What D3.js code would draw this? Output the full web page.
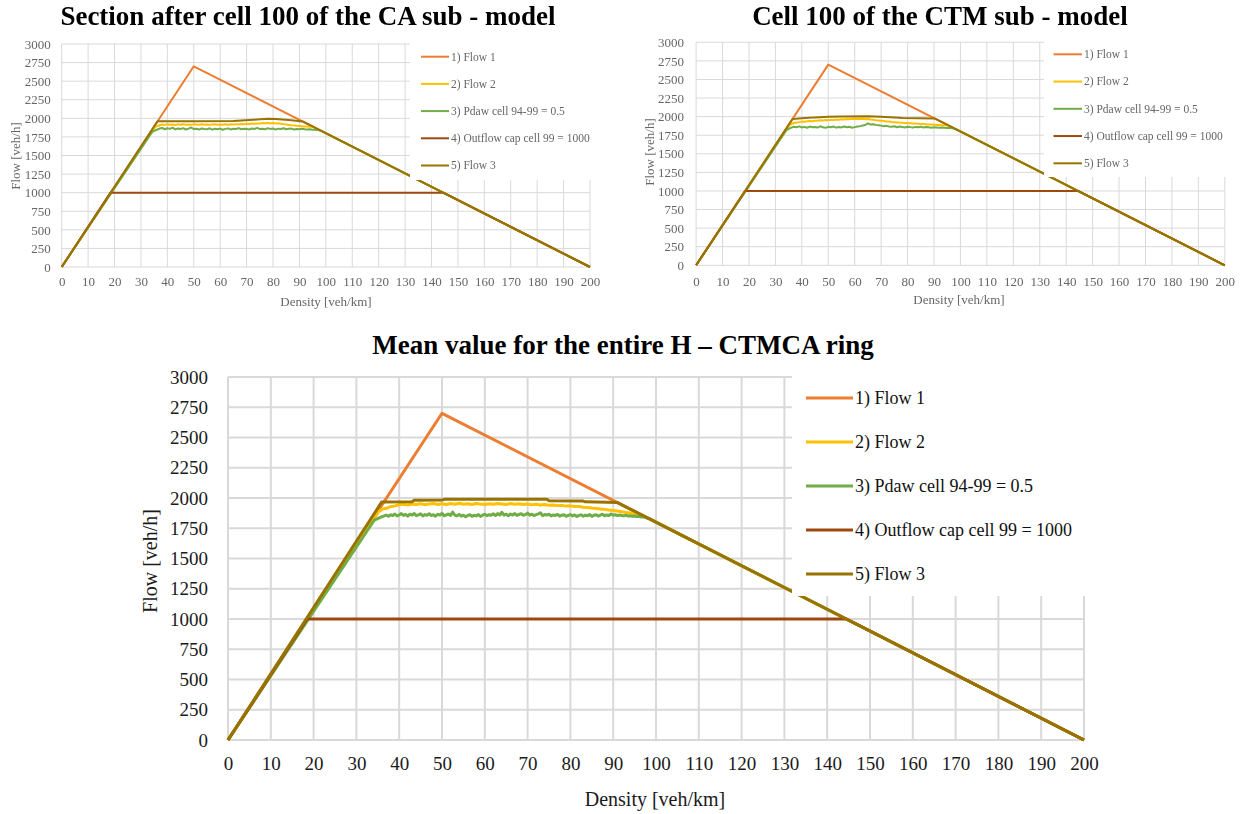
<!DOCTYPE html>
<html>
<head>
<meta charset="utf-8">
<script src="https://cdn.jsdelivr.net/npm/d3@7"></script>
<style>
  body { margin: 0; background: #fff; }
  svg { display: block; }
</style>
</head>
<body>
<svg id="chart" width="1244" height="814">
  <defs>
    <filter id="soft" x="-5%" y="-5%" width="110%" height="110%">
      <feGaussianBlur stdDeviation="0.4"/>
    </filter>
  </defs>
</svg>
<script>
const SERIF = "'Liberation Serif', 'Times New Roman', Times, serif";

// ---- axis ticks and legend labels ----
const densityTicks = [0, 10, 20, 30, 40, 50, 60, 70, 80, 90, 100, 110, 120, 130, 140, 150, 160, 170, 180, 190, 200];
const flowTicks = [0, 250, 500, 750, 1000, 1250, 1500, 1750, 2000, 2250, 2500, 2750, 3000];
const seriesNames = ["1) Flow 1", "2) Flow 2", "3) Pdaw cell 94-99 = 0.5", "4) Outflow cap cell 99 = 1000", "5) Flow 3"];
const seriesColors = ["#ED7D31", "#FFC000", "#70AD47", "#9E480E", "#997300"];

// ---- shared corner points [density, flow] ----
const flow1Corners = [[0, 0], [50, 2700], [200, 0]];
const outflowCapCorners = [[0, 0], [18.5, 1000], [144.5, 1000], [200, 0]];

// ---- CA sub-model, section after cell 100 ----
const caFlow3 = [[0, 0], [36.3, 1960], [50, 1962], [65, 1963], [68, 1972], [74, 1984], [78, 1993], [81, 1990], [86, 1978], [91.2, 1958], [200, 0]];
const caFlow2Rise = [[0, 0], [35.4, 1885], [36.6, 1900]];
const caFlow2Start = 37;
const caFlow2Plateau = [
  1908, 1916, 1912, 1920, 1914, 1918, 1911, 1919, 1915, 1921,
  1913, 1917, 1912, 1920, 1916, 1913, 1919, 1914, 1918, 1912,
  1917, 1921, 1914, 1918, 1913, 1919, 1915, 1920, 1916, 1922,
  1918, 1924, 1920, 1926, 1923, 1929, 1927, 1932, 1930, 1936,
  1933, 1938, 1934, 1937, 1931, 1933, 1926, 1922, 1916, 1911,
  1906, 1903, 1899, 1897, 1893, 1891, 1889, 1888];
const caFlow2Tail = [[95.2, 1886], [200, 0]];
const caPdawRise = [[0, 0], [34.2, 1815], [35.6, 1840]];
const caPdawStart = 36;
const caPdawPlateau = [
  1846, 1862, 1871, 1853, 1866, 1858, 1874, 1851, 1863, 1856,
  1868, 1850, 1861, 1877, 1855, 1860, 1849, 1864, 1857, 1852,
  1866, 1848, 1859, 1854, 1862, 1847, 1858, 1865, 1851, 1860,
  1856, 1869, 1853, 1861, 1858, 1850, 1864, 1857, 1872, 1855,
  1860, 1852, 1866, 1858, 1863, 1849, 1861, 1856, 1867, 1853,
  1859, 1862, 1850, 1857, 1854, 1860, 1852, 1849, 1853, 1847,
  1845, 1842];
const caPdawTail = [[98.3, 1831], [200, 0]];

// ---- CTM sub-model, cell 100 ----
const ctmFlow3 = [[0, 0], [36.5, 1968], [40, 1978], [45, 1990], [50, 1998], [55, 2003], [65, 2004], [70, 2000], [75, 1990], [78, 1980], [90.2, 1976], [200, 0]];
const ctmFlow2Rise = [[0, 0], [35.4, 1890], [36.6, 1908]];
const ctmFlow2Start = 37;
const ctmFlow2Plateau = [
  1914, 1922, 1926, 1933, 1930, 1938, 1941, 1938, 1946, 1944,
  1950, 1948, 1955, 1952, 1958, 1956, 1962, 1959, 1965, 1962,
  1968, 1965, 1971, 1968, 1973, 1969, 1972, 1966, 1968, 1961,
  1958, 1952, 1949, 1943, 1940, 1935, 1933, 1928, 1926, 1922,
  1920, 1917, 1915, 1912, 1910, 1908, 1906, 1904, 1902, 1900,
  1897, 1895, 1893, 1891, 1889, 1887, 1885, 1883, 1881];
const ctmFlow2Tail = [[95.6, 1879], [200, 0]];
const ctmPdawRise = [[0, 0], [34.2, 1820], [35.6, 1846]];
const ctmPdawStart = 36;
const ctmPdawPlateau = [
  1852, 1864, 1858, 1869, 1855, 1862, 1850, 1866, 1857, 1861,
  1853, 1870, 1856, 1849, 1863, 1858, 1866, 1852, 1860, 1855,
  1868, 1857, 1863, 1851, 1859, 1866, 1872, 1880, 1887, 1910,
  1893, 1898, 1889, 1884, 1879, 1872, 1876, 1868, 1863, 1870,
  1858, 1866, 1861, 1855, 1864, 1859, 1852, 1862, 1857, 1865,
  1853, 1860, 1856, 1851, 1858, 1854, 1849, 1855, 1850, 1846,
  1848, 1843];
const ctmPdawTail = [[98.3, 1831], [200, 0]];

// ---- mean over the whole H-CTMCA ring ----
const ringFlow3 = [[0, 0], [35.9, 1966], [43, 1968], [43.5, 1982], [50, 1984], [50.5, 1989], [74.5, 1989], [75, 1978], [83, 1975], [83.5, 1968], [91, 1962], [200, 0]];
const ringFlow2Rise = [[0, 0], [35.2, 1888], [36.2, 1909]];
const ringFlow2Start = 37;
const ringFlow2Plateau = [
  1915, 1928, 1935, 1944, 1948, 1942, 1951, 1946, 1953, 1945,
  1950, 1955, 1947, 1952, 1946, 1954, 1949, 1956, 1948, 1953,
  1947, 1955, 1950, 1946, 1953, 1948, 1955, 1951, 1947, 1954,
  1949, 1952, 1946, 1950, 1944, 1948, 1942, 1946, 1940, 1943,
  1937, 1939, 1933, 1935, 1929, 1930, 1924, 1922, 1917, 1914,
  1910, 1906, 1901, 1897, 1892, 1887, 1881, 1876, 1869, 1861];
const ringFlow2Tail = [[97.2, 1850], [200, 0]];
const ringPdawRise = [[0, 0], [34.2, 1818], [35.6, 1840]];
const ringPdawStart = 36;
const ringPdawPlateau = [   // sampled every 0.5 veh/km
  1846, 1852, 1858, 1849, 1862, 1855, 1868, 1851, 1860, 1871,
  1856, 1864, 1850, 1866, 1858, 1872, 1854, 1861, 1869, 1852,
  1863, 1857, 1870, 1855, 1862, 1849, 1866, 1858, 1874, 1853,
  1861, 1868, 1856, 1884, 1859, 1852, 1865, 1850, 1858, 1846,
  1855, 1862, 1849, 1857, 1852, 1863, 1848, 1858, 1866, 1854,
  1862, 1857, 1869, 1855, 1871, 1860, 1882, 1858, 1866, 1853,
  1868, 1859, 1872, 1856, 1864, 1870, 1857, 1863, 1875, 1858,
  1866, 1855, 1862, 1869, 1878, 1854, 1863, 1859, 1866, 1852,
  1860, 1856, 1864, 1851, 1858, 1862, 1849, 1857, 1863, 1852,
  1860, 1847, 1856, 1861, 1850, 1858, 1853, 1864, 1849, 1857,
  1862, 1851, 1859, 1866, 1853, 1860, 1855, 1868, 1857, 1862,
  1854, 1860, 1856, 1852, 1858, 1850, 1854, 1848, 1851, 1846,
  1849, 1843, 1844];
const ringPdawTail = [[98.5, 1827], [200, 0]];

// rise + sampled plateau + descending tail -> one polyline
function assemble(rise, start, step, plateau, tail) {
  return rise.concat(plateau.map((f, i) => [start + i * step, f]), tail);
}

const svg = d3.select("#chart");

function drawPanel(p, series) {
  const g = svg.append("g");
  if (p.soft) g.attr("filter", "url(#soft)");
  const x = d3.scaleLinear().domain([0, 200]).range([p.left, p.right]);
  const y = d3.scaleLinear().domain([0, 3000]).range([p.bottom, p.top]);

  // gridlines
  g.append("g").selectAll("line").data(densityTicks).join("line")
    .attr("x1", d => x(d)).attr("x2", d => x(d))
    .attr("y1", y(0)).attr("y2", y(3000))
    .attr("stroke", "#d9d9d9").attr("stroke-width", p.gridW);
  g.append("g").selectAll("line").data(flowTicks).join("line")
    .attr("x1", x(0)).attr("x2", x(200))
    .attr("y1", d => y(d)).attr("y2", d => y(d))
    .attr("stroke", "#d9d9d9").attr("stroke-width", p.gridW);

  // tick labels
  const fmt = d3.format("d");
  const xa = g.append("g").attr("transform", `translate(0,${y(0)})`)
    .call(d3.axisBottom(x).tickValues(densityTicks).tickFormat(fmt).tickSize(0).tickPadding(p.xPad));
  const ya = g.append("g").attr("transform", `translate(${x(0)},0)`)
    .call(d3.axisLeft(y).tickValues(flowTicks).tickFormat(fmt).tickSize(0).tickPadding(p.yPad));
  [xa, ya].forEach(a => {
    a.attr("font-family", SERIF);
    a.select(".domain").remove();
    a.selectAll("text")
      .style("font-family", SERIF)
      .style("font-size", p.tickSize + "px")
      .attr("fill", p.textColor);
  });

  // series, Flow 3 last so it sits on top
  const line = d3.line().x(d => x(d[0])).y(d => y(d[1]));
  g.append("g").selectAll("path").data(series).join("path")
    .attr("d", d => line(d))
    .attr("fill", "none")
    .attr("stroke", (d, i) => seriesColors[i])
    .attr("stroke-width", p.lineW)
    .attr("stroke-linejoin", "round");

  // legend panel
  g.append("rect")
    .attr("x", p.legX).attr("y", p.top - 8)
    .attr("width", p.right + 20 - p.legX).attr("height", p.legBottom - p.top + 8)
    .attr("fill", "#fff");
  const leg = g.append("g").selectAll("g").data(seriesNames).join("g")
    .attr("transform", (d, i) => `translate(0,${p.legY0 + i * p.legDy})`);
  leg.append("line")
    .attr("x1", p.legL1).attr("x2", p.legL2)
    .attr("stroke", (d, i) => seriesColors[i]).attr("stroke-width", p.lineW);
  leg.append("text")
    .attr("x", p.legL2 + 2).attr("dy", "0.34em")
    .style("font-family", SERIF)
    .style("font-size", p.legSize + "px").attr("fill", p.legColor)
    .text(d => d);

  // titles
  g.append("text")
    .attr("x", p.titleX).attr("y", p.titleY)
    .attr("text-anchor", "middle")
    .style("font-family", SERIF)
    .style("font-size", p.titleSize + "px").style("font-weight", "bold")
    .attr("fill", "#000")
    .text(p.title);
  g.append("text")
    .attr("x", p.xTitleX).attr("y", p.xTitleY)
    .attr("text-anchor", "middle")
    .style("font-family", SERIF)
    .style("font-size", p.axisTitleSize + "px").attr("fill", p.textColor)
    .text("Density  [veh/km]");
  g.append("text")
    .attr("transform", `translate(${p.yTitleX},${p.yTitleY}) rotate(-90)`)
    .attr("text-anchor", "middle").attr("dy", "0.34em")
    .style("font-family", SERIF)
    .style("font-size", p.axisTitleSize + "px").attr("fill", p.textColor)
    .text("Flow [veh/h]");
}

drawPanel({
  soft: true,
  left: 61.7, right: 590, top: 44, bottom: 267,
  gridW: 1, lineW: 2, tickSize: 13, xPad: 10, yPad: 11, textColor: "#666",
  legX: 410, legBottom: 180, legY0: 56.7, legDy: 27.2, legL1: 421, legL2: 449, legSize: 11.5, legColor: "#666",
  title: "Section after cell 100 of the CA sub - model", titleX: 308, titleY: 25, titleSize: 27,
  xTitleX: 326, xTitleY: 306, yTitleX: 16, yTitleY: 156, axisTitleSize: 13
}, [
  flow1Corners,
  assemble(caFlow2Rise, caFlow2Start, 1, caFlow2Plateau, caFlow2Tail),
  assemble(caPdawRise, caPdawStart, 1, caPdawPlateau, caPdawTail),
  outflowCapCorners,
  caFlow3
]);

drawPanel({
  soft: true,
  left: 696.1, right: 1224.8, top: 42.3, bottom: 265.3,
  gridW: 1, lineW: 2, tickSize: 13, xPad: 11, yPad: 12, textColor: "#666",
  legX: 1044, legBottom: 177, legY0: 54.3, legDy: 27.25, legL1: 1053.5, legL2: 1082, legSize: 11.5, legColor: "#666",
  title: "Cell 100 of the CTM sub - model", titleX: 940, titleY: 25, titleSize: 27,
  xTitleX: 959, xTitleY: 304, yTitleX: 650, yTitleY: 152, axisTitleSize: 13
}, [
  flow1Corners,
  assemble(ctmFlow2Rise, ctmFlow2Start, 1, ctmFlow2Plateau, ctmFlow2Tail),
  assemble(ctmPdawRise, ctmPdawStart, 1, ctmPdawPlateau, ctmPdawTail),
  outflowCapCorners,
  ctmFlow3
]);

drawPanel({
  soft: false,
  left: 228, right: 1084, top: 377, bottom: 740,
  gridW: 2, lineW: 3, tickSize: 19, xPad: 17, yPad: 20, textColor: "#1a1a1a",
  legX: 792, legBottom: 596, legY0: 398, legDy: 44, legL1: 806, legL2: 853, legSize: 18, legColor: "#111",
  title: "Mean value for the entire H \u2013 CTMCA ring", titleX: 623, titleY: 354, titleSize: 27,
  xTitleX: 655, xTitleY: 806, yTitleX: 150, yTitleY: 561, axisTitleSize: 20
}, [
  flow1Corners,
  assemble(ringFlow2Rise, ringFlow2Start, 1, ringFlow2Plateau, ringFlow2Tail),
  assemble(ringPdawRise, ringPdawStart, 0.5, ringPdawPlateau, ringPdawTail),
  outflowCapCorners,
  ringFlow3
]);
</script>
</body>
</html>
